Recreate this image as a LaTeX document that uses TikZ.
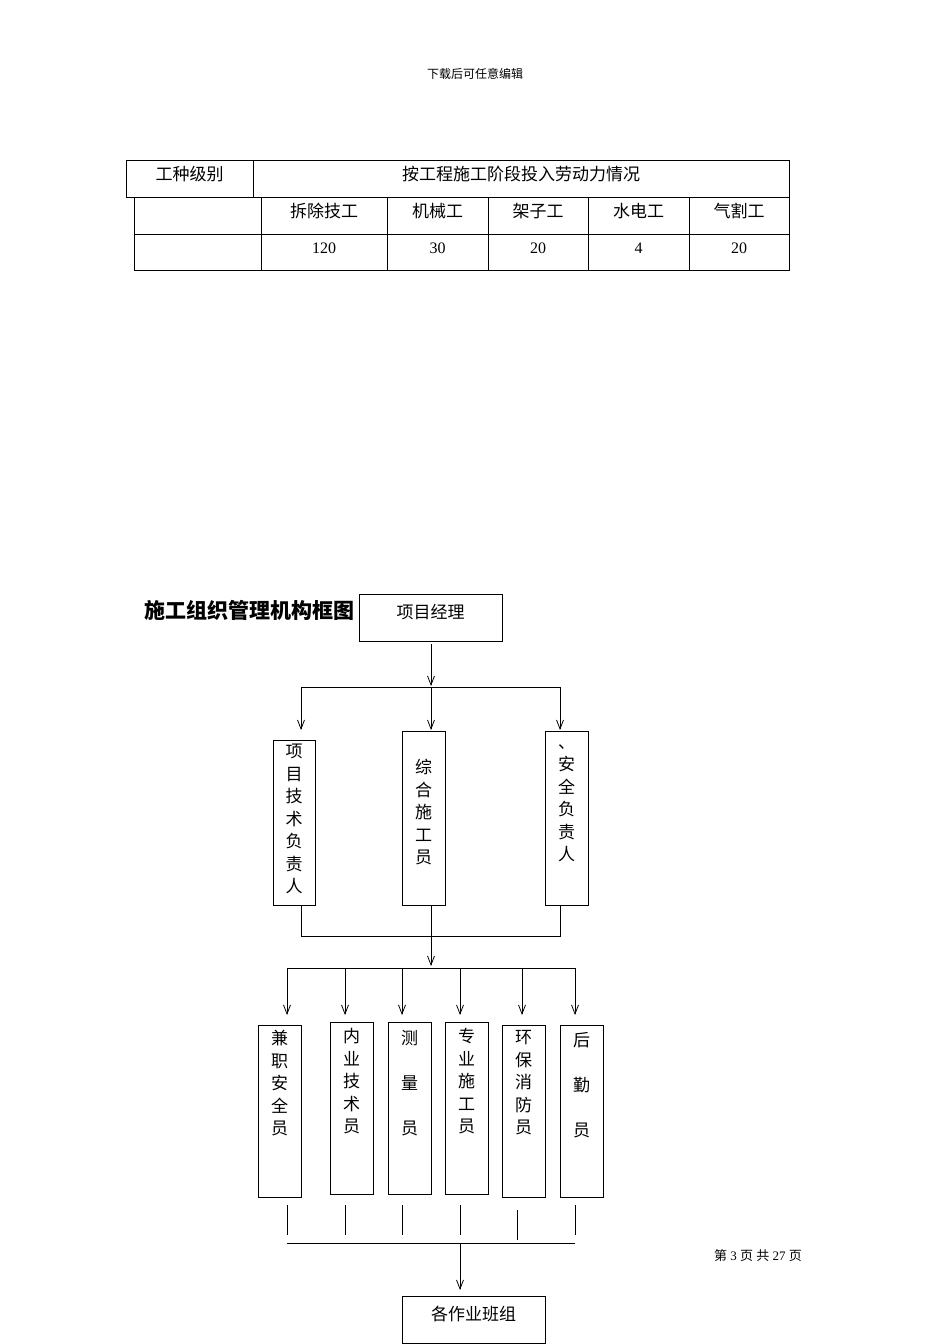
\documentclass[tikz,border=0pt]{standalone}
\usepackage{fontspec}
\setmainfont{Liberation Serif}
\newfontfamily\cjk{Noto Sans CJK SC}
\usetikzlibrary{arrows.meta}
\begin{document}
\begin{tikzpicture}[x=1pt,y=-1pt,
  line width=0.8pt,
  arr/.style={-{Straight Barb[length=9pt,width=7pt]}},
  bx/.style={draw,fill=white,inner sep=0pt},
  vt/.style={anchor=north,align=center,inner sep=0pt,font=\cjk\fontsize{17}{22.5}\selectfont},
  cell/.style={font=\cjk\fontsize{17}{18}\selectfont,inner sep=0pt},
  num/.style={font=\fontsize{16}{18}\selectfont,inner sep=0pt}]
\useasboundingbox (0,0) rectangle (950,1344);
\node[font=\cjk\fontsize{12}{13}\selectfont] (hdr) at (475,74) {下载后可任意编辑};
% table
\draw (126,160) rectangle (789,197);
\draw (253,160) -- (253,197);
\draw (134,197) rectangle (789,270);
\draw (134,234) -- (789,234);
\foreach \x in {261,387,488,588,689} \draw (\x,197) -- (\x,270);
\node[cell] (t0) at (189.5,174) {工种级别};
\node[cell] (t1) at (521,174) {按工程施工阶段投入劳动力情况};
\node[cell] (a1) at (324,211) {拆除技工};
\node[cell] (a2) at (437.5,211) {机械工};
\node[cell] (a3) at (538,211) {架子工};
\node[cell] (a4) at (638.5,211) {水电工};
\node[cell] (a5) at (739,211) {气割工};
\node[num] (b1) at (324,248) {120};
\node[num] (b2) at (437.5,248) {30};
\node[num] (b3) at (538,248) {20};
\node[num] (b4) at (638.5,248) {4};
\node[num] (b5) at (739,248) {20};
% title
\node[anchor=west,font=\cjk\bfseries\fontsize{21}{22}\selectfont,inner sep=0pt] (title) at (144,610) {施工组织管理机构框图};
% top
\node[bx,minimum width=143pt,minimum height=47pt] (pm) at (430.5,617.5) {};
\node[cell] (pmt) at (430.5,612) {项目经理};
\draw[arr] (431,644) -- (431,686);
\draw (301,687) -- (560,687);
\draw[arr] (301,687) -- (301,730);
\draw[arr] (431,687) -- (431,730);
\draw[arr] (560,687) -- (560,730);
\node[bx,minimum width=42pt,minimum height=165pt] (m1) at (294,822.5) {};
\node[bx,minimum width=43pt,minimum height=174pt] (m2) at (423.5,818) {};
\node[bx,minimum width=43pt,minimum height=174pt] (m3) at (566.5,818) {};
\node[vt] (m1t) at (294,744) {项\\目\\技\\术\\负\\责\\人};
\node[vt] (m2t) at (423.5,759) {综\\合\\施\\工\\员};
\node[vt] (m3t) at (566.5,744) {、\\安\\全\\负\\责\\人};
\draw (301,905) -- (301,936) -- (560,936) -- (560,905);
\draw (431,905) -- (431,936);
\draw[arr] (431,936) -- (431,966);
\draw (287,968) -- (575,968);
\foreach \x in {287,345,402,460,522,575} \draw[arr] (\x,968) -- (\x,1015);
\node[bx,minimum width=43pt,minimum height=172pt] (s1) at (279.5,1111) {};
\node[bx,minimum width=43pt,minimum height=172pt] (s2) at (351.5,1108) {};
\node[bx,minimum width=43pt,minimum height=172pt] (s3) at (409.5,1108) {};
\node[bx,minimum width=43pt,minimum height=172pt] (s4) at (466.5,1108) {};
\node[bx,minimum width=43pt,minimum height=172pt] (s5) at (523.5,1111) {};
\node[bx,minimum width=43pt,minimum height=172pt] (s6) at (581.5,1111) {};
\node[vt] (s1t) at (279.5,1030) {兼\\职\\安\\全\\员};
\node[vt] (s2t) at (351.5,1028) {内\\业\\技\\术\\员};
\node[vt] (s3t) at (409.5,1030) {测\\[22.5pt]量\\[22.5pt]员};
\node[vt] (s4t) at (466.5,1028) {专\\业\\施\\工\\员};
\node[vt] (s5t) at (523.5,1030) {环\\保\\消\\防\\员};
\node[vt] (s6t) at (581.5,1032) {后\\[22.5pt]勤\\[22.5pt]员};
\foreach \x in {287,345,402,460,575} \draw (\x,1205) -- (\x,1235);
\draw (517,1210) -- (517,1240);
\draw (287,1243) -- (575,1243);
\node[bx,minimum width=143pt,minimum height=47pt] (grp) at (473.5,1319.5) {};
\node[cell] (grpt) at (473.5,1314) {各作业班组};
\draw[arr] (460,1243) -- (460,1290);
\node[font=\fontsize{13}{14}\selectfont,inner sep=0pt] (ftr) at (758,1256) {{\cjk 第} 3 {\cjk 页} {\cjk 共} 27 {\cjk 页}};
\end{tikzpicture}
\end{document}
